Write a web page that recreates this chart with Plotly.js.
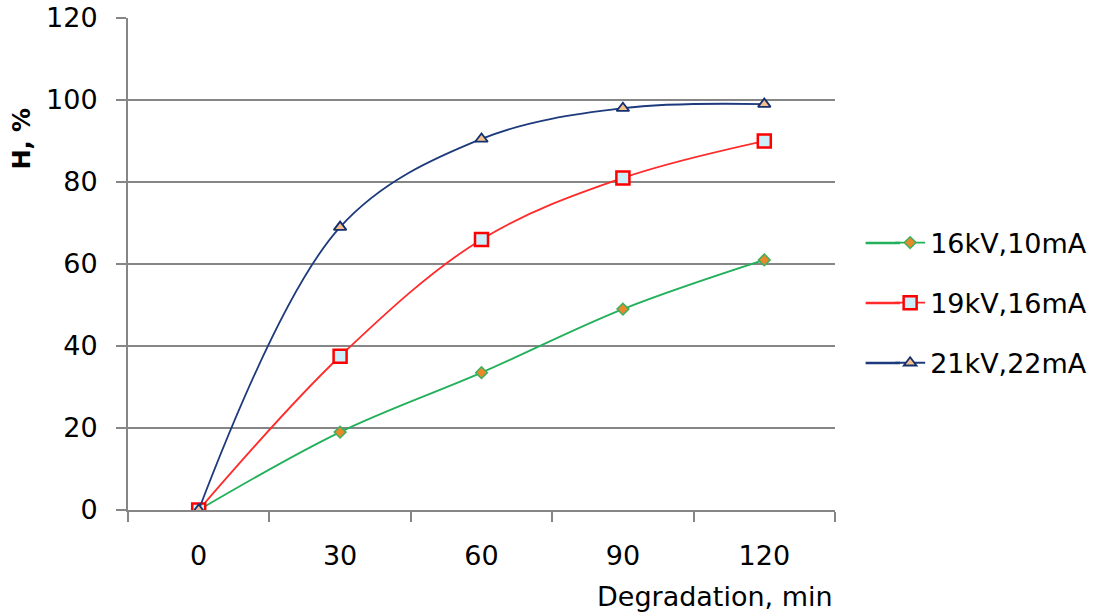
<!DOCTYPE html>
<html>
<head>
<meta charset="utf-8">
<script src="https://cdn.plot.ly/plotly-3.0.1.min.js"></script>
<style>html,body{margin:0;padding:0;background:#fff;}#chart{width:1095px;height:612px;}</style>
</head>
<body>
<div id="chart"></div>
<script>
const categories = ["0", "30", "60", "90", "120"];
const seriesNames = ["16kV,10mA", "19kV,16mA", "21kV,22mA"];
const s16kV = [0, 19, 33.5, 49, 61];
const s19kV = [0, 37.5, 66, 81, 90];
const s21kV = [0, 69, 90.5, 98, 99];
const yTicks = [0, 20, 40, 60, 80, 100, 120];

const FONT = "DejaVu Sans, Verdana, sans-serif";
const colors = ["#22b05a", "#ff2a2a", "#1d3a7c"];

const traces = [
  {
    x: categories, y: s16kV, name: seriesNames[0], type: "scatter", mode: "lines+markers",
    line: {color: colors[0], width: 1.8, shape: "spline", smoothing: 1},
    marker: {symbol: "diamond", size: 9, color: "#e8892a", line: {color: "#3cb060", width: 1.5}},
    legendgroup: "a"
  },
  {
    x: categories, y: s19kV, name: seriesNames[1], type: "scatter", mode: "lines+markers",
    line: {color: colors[1], width: 1.8, shape: "spline", smoothing: 1},
    marker: {symbol: "square", size: 13, color: "#cdeffb", line: {color: "#ff0000", width: 2.5}},
    legendgroup: "b"
  },
  {
    x: categories, y: s21kV, name: seriesNames[2], type: "scatter", mode: "lines+markers",
    line: {color: colors[2], width: 1.8, shape: "spline", smoothing: 1},
    marker: {symbol: "triangle-up", size: 11, color: "#f6c08e", line: {color: "#14306e", width: 1.8}},
    legendgroup: "c"
  }
];

// legend sample line extensions (decoration only)
const legRowsY = [0.5427, 0.4207, 0.2988];
const shapes = legRowsY.map((yy, i) => ({
  type: "line", xref: "paper", yref: "paper",
  x0: 1.0433, x1: 1.092, y0: yy, y1: yy,
  line: {color: colors[i], width: 2.5}, layer: "below"
}));

const layout = {
  width: 1095, height: 612,
  margin: {l: 128, r: 260, t: 18, b: 102, autoexpand: false},
  paper_bgcolor: "#ffffff", plot_bgcolor: "#ffffff",
  font: {family: FONT, size: 27, color: "#000"},
  showlegend: true,
  legend: {
    x: 1.078, xanchor: "left", y: 0.4207, yanchor: "middle",
    bgcolor: "rgba(0,0,0,0)",
    traceorder: "grouped", tracegroupgap: 22,
    font: {family: FONT, size: 27, color: "#000"},
    itemwidth: 30
  },
  shapes: shapes,
  xaxis: {
    type: "category",
    categoryorder: "array", categoryarray: categories,
    range: [-0.5, 4.5],
    showgrid: false, zeroline: false,
    showline: true, linecolor: "#868686", linewidth: 2,
    ticks: "outside", tickson: "boundaries", ticklen: 10, tickwidth: 2, tickcolor: "#868686",
    ticklabelstandoff: 21,
    tickfont: {family: FONT, size: 27, color: "#000"},
    fixedrange: true
  },
  yaxis: {
    range: [0, 120],
    tickmode: "array", tickvals: yTicks, ticktext: yTicks.map(String),
    showgrid: true, gridcolor: "#868686", gridwidth: 2,
    zeroline: false,
    showline: true, linecolor: "#868686", linewidth: 2,
    ticks: "outside", ticklen: 10, tickwidth: 2, tickcolor: "#868686",
    ticklabelstandoff: 13,
    tickfont: {family: FONT, size: 27, color: "#000"},
    fixedrange: true
  },
  annotations: [
    {
      text: "Degradation, min", xref: "paper", yref: "paper",
      x: 1.0, xanchor: "right", y: -0.175, yanchor: "middle",
      showarrow: false, font: {family: FONT, size: 27, color: "#000"}
    },
    {
      text: "<b>H, %</b>", xref: "paper", yref: "paper",
      x: -0.15, xanchor: "center", y: 0.755, yanchor: "middle", textangle: -90,
      showarrow: false, font: {family: FONT, size: 24, color: "#000"}
    }
  ]
};

Plotly.newPlot("chart", traces, layout, {displayModeBar: false, staticPlot: true});
</script>
</body>
</html>
